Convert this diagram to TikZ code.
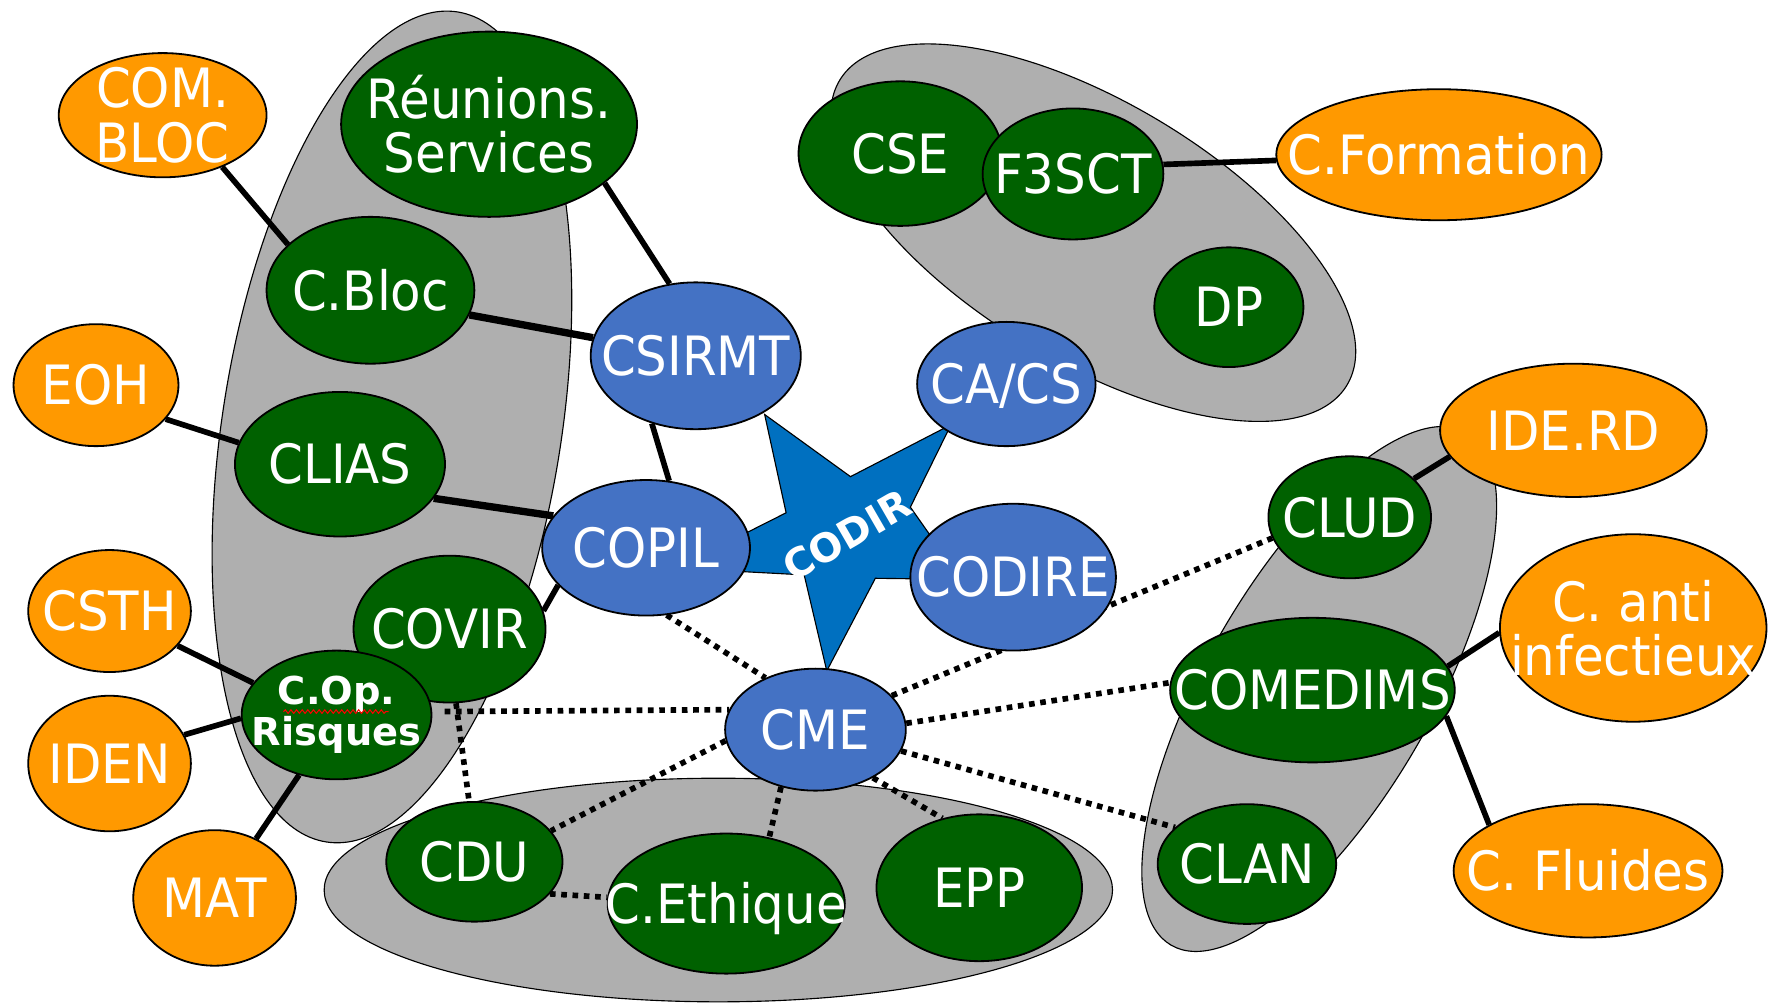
\documentclass[tikz,border=0pt]{standalone}
\usepackage{fontspec}
\setmainfont{DejaVu Sans}[FakeStretch=0.92]
\newfontfamily\bff{DejaVu Sans Bold}
\usetikzlibrary{shapes.geometric,decorations.pathmorphing}
\definecolor{dgreen}{HTML}{006100}
\definecolor{lorange}{HTML}{FF9900}
\definecolor{nblue}{HTML}{4472C4}
\definecolor{sblue}{HTML}{0070C0}
\definecolor{blobgray}{HTML}{AFAFAF}
\pgfdeclarelayer{bg}
\pgfdeclarelayer{mid}
\pgfsetlayers{bg,mid,main}
\tikzset{
  bub/.style={ellipse, draw=black, line width=1.6pt, inner sep=0pt},
  gn/.style={bub, fill=dgreen},
  og/.style={bub, fill=lorange},
  bl/.style={bub, fill=nblue},
  blob/.style={draw=black, line width=1pt, fill=blobgray},
  link/.style={line width=5pt, black},
  tlink/.style={line width=6.5pt, black},
  dlink/.style={line width=5pt, black, dash pattern=on 5pt off 5pt},
  lb/.style={font=\fontsize{48}{48}\selectfont, text=white, text height=35pt, text depth=0pt, inner sep=0pt},
  lbb/.style={font=\fontsize{48}{48}\selectfont, text=white, align=center, inner sep=0pt},
  lbo/.style={font=\bff\fontsize{34}{36}\selectfont, text=white, align=center, inner sep=0pt},
}
\begin{document}
\begin{tikzpicture}[x=1pt,y=-1pt]
\useasboundingbox (0,0) rectangle (1568,888);
% grey groups
\begin{pgfonlayer}{bg}
\draw[blob, rotate around={81:(347,378)}] (347,378) ellipse [x radius=372, y radius=150];
\draw[blob, rotate around={-31:(968,206)}] (968,206) ellipse [x radius=262, y radius=115];
\draw[blob, rotate around={60:(1168,610)}] (1168,610) ellipse [x radius=262, y radius=100];
\draw[blob] (636,788) ellipse [x radius=349, y radius=99];
\end{pgfonlayer}
% star
\draw[fill=sblue, draw=black, line width=1pt] (677,367) -- (753,422) -- (842,376) -- (806,449) -- (851,513) -- (775,512) -- (732,594) -- (712,509) -- (599,503) -- (696,454) -- cycle;
\node[rotate=30, font=\bff\fontsize{35}{35}\selectfont, text=white, inner sep=0pt] (codir) at (750,474) {CODIR};
% nodes
\node[og, minimum width=184pt, minimum height=110pt, label={[lbb]center:COM.\\BLOC}] (combloc) at (144,102) {};
\node[gn, minimum width=262pt, minimum height=164pt, label={[lbb]center:Réunions.\\Services}] (reunions) at (433,110) {};
\node[gn, minimum width=184pt, minimum height=130pt, label={[lb]center:C.Bloc}] (cbloc) at (328,257) {};
\node[og, minimum width=146pt, minimum height=108pt, label={[lb]center:EOH}] (eoh) at (85,341) {};
\node[gn, minimum width=186pt, minimum height=128pt, label={[lb]center:CLIAS}] (clias) at (301,411) {};
\node[og, minimum width=144pt, minimum height=108pt, label={[lb]center:CSTH}] (csth) at (97,541) {};
\node[gn, minimum width=170pt, minimum height=130pt, label={[lb]center:COVIR}] (covir) at (398,557) {};
\node[gn, minimum width=168pt, minimum height=114pt, label={[lbo]center:C.Op.\\Risques}] (cop) at (298,633) {};
\node[og, minimum width=144pt, minimum height=120pt, label={[lb]center:IDEN}] (iden) at (97,676) {};
\node[og, minimum width=144pt, minimum height=120pt, label={[lb]center:MAT}] (mat) at (190,795) {};
\node[bl, minimum width=186pt, minimum height=130pt, label={[lb]center:CSIRMT}] (csirmt) at (616,315) {};
\node[bl, minimum width=184pt, minimum height=120pt, label={[lb]center:COPIL}] (copil) at (572,485) {};
\node[bl, minimum width=158pt, minimum height=110pt, label={[lb]center:CA/CS}] (cacs) at (891,340) {};
\node[bl, minimum width=182pt, minimum height=130pt, label={[lb]center:CODIRE}] (codire) at (897,511) {};
\node[bl, minimum width=160pt, minimum height=108pt, label={[lb]center:CME}] (cme) at (722,646) {};
\node[gn, minimum width=144pt, minimum height=108pt, label={[lb]center:CLUD}] (clud) at (1195,458) {};
\node[og, minimum width=236pt, minimum height=118pt, label={[lb]center:IDE.RD}] (iderd) at (1393,381) {};
\node[gn, minimum width=252pt, minimum height=128pt, label={[lb]center:COMEDIMS}] (comedims) at (1162,611) {};
\node[og, minimum width=236pt, minimum height=166pt, label={[lbb]center:C. anti\\infectieux}] (canti) at (1446,556) {};
\node[gn, minimum width=158pt, minimum height=106pt, label={[lb]center:CLAN}] (clan) at (1104,765) {};
\node[og, minimum width=238pt, minimum height=118pt, label={[lb]center:C. Fluides}] (cfluides) at (1406,771) {};
\node[gn, minimum width=180pt, minimum height=128pt, label={[lb]center:CSE}] (cse) at (797,136) {};
\node[gn, minimum width=160pt, minimum height=116pt, label={[lb]center:F3SCT}] (f3sct) at (950,154) {};
\node[gn, minimum width=132pt, minimum height=106pt, label={[lb]center:DP}] (dp) at (1088,272) {};
\node[og, minimum width=288pt, minimum height=116pt, label={[lb]center:C.Formation}] (cformation) at (1274,137) {};
\node[gn, minimum width=156pt, minimum height=106pt, label={[lb]center:CDU}] (cdu) at (420,763) {};
\node[gn, minimum width=210pt, minimum height=124pt, label={[lb]center:C.Ethique}] (cethique) at (643,800) {};
\node[gn, minimum width=182pt, minimum height=130pt, label={[lb]center:EPP}] (epp) at (867,786) {};
% spell-check squiggle under C.Op.
\draw[red, line width=0.9pt, decorate, decoration={snake, amplitude=1.6pt, segment length=5pt}] (251,630) -- (344,630);
% connectors
\begin{pgfonlayer}{mid}
\draw[link] (combloc.-41) -- (cbloc.151);
\draw[link] (reunions.-27) -- (csirmt.110);
\draw[tlink] (cbloc.-14) -- (csirmt.170);
\draw[link] (eoh.-26) -- (clias.168);
\draw[tlink] (clias.-20) -- (copil.161);
\draw[link] (csirmt.-123) -- (copil.71);
\draw[link] (copil.203) -- (covir.11);
\draw[link] (csth.-27) -- (cop.159);
\draw[link] (iden.21) -- (cop.182);
\draw[link] (cop.238) -- (mat.55);
\draw[link] (f3sct.6) -- (cformation.182);
\draw[link] (clud.31) -- (iderd.192);
\draw[link] (comedims.10) -- (canti.182);
\draw[link] (comedims.-11) -- (cfluides.155);
\draw[dlink] (copil.-73) -- (cme.134);
\draw[dlink, shorten <=11pt] (cop.2) -- (cme.167);
\draw[dlink] (covir.-85) -- (cdu.95);
\draw[dlink] (cme.187) -- (cdu.22);
\draw[dlink] (cdu.-23) -- (cethique.177);
\draw[dlink] (cme.239) -- (cethique.57);
\draw[dlink] (cme.-40) -- (epp.118);
\draw[dlink] (cme.24) -- (clud.195);
\draw[dlink] (cme.4) -- (comedims.177);
\draw[dlink] (cme.-14) -- (clan.153);
\end{pgfonlayer}
\end{tikzpicture}
\end{document}
